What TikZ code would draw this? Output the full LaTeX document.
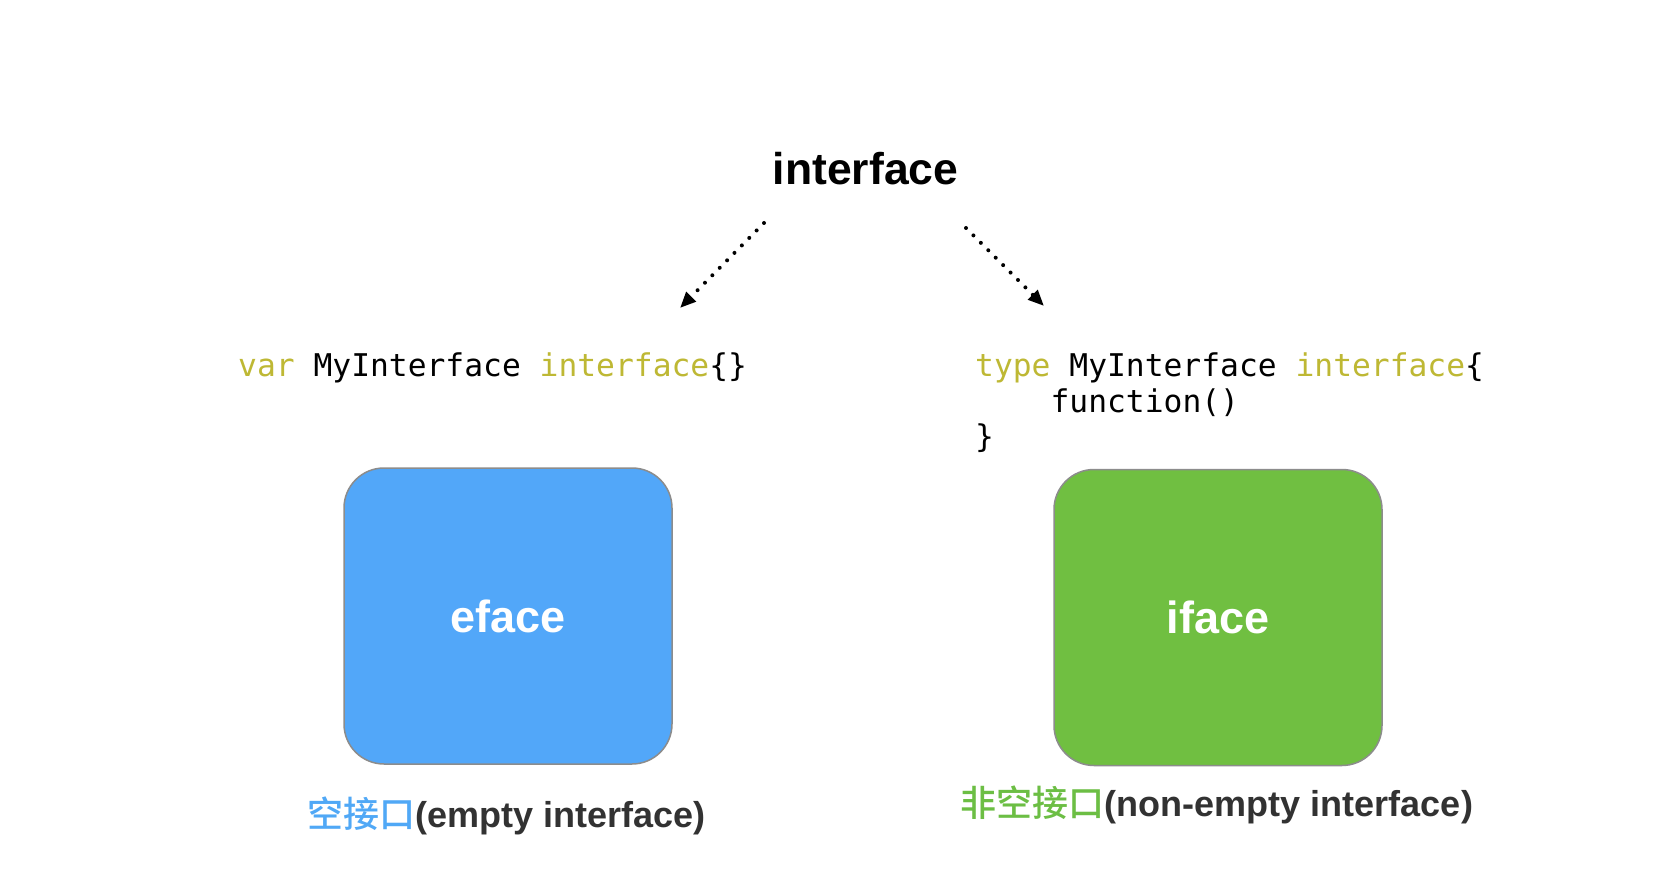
\documentclass[tikz,border=0pt]{standalone}
\usepackage{fontspec}
\setmainfont{Liberation Sans}
\newfontfamily\cjkfont{Noto Sans CJK SC}[UprightFont=* Medium]
\newfontfamily\codefont{DejaVu Sans Mono}
\usetikzlibrary{arrows.meta}
\definecolor{kw}{RGB}{190,184,52}
\definecolor{bluefill}{RGB}{82,167,249}
\definecolor{greenfill}{RGB}{112,191,65}
\definecolor{boxborder}{RGB}{140,140,140}
\definecolor{bluetxt}{RGB}{80,168,246}
\definecolor{greentxt}{RGB}{108,190,68}
\definecolor{darktxt}{RGB}{50,50,50}
\tikzset{
  title/.style={inner sep=0pt, anchor=base, font=\bfseries\fontsize{44.5}{53}\selectfont},
  codeline/.style={inner sep=0pt, anchor=base west, font=\codefont\fontsize{31.3}{37.5}\selectfont},
  typebox/.style={draw=boxborder, line width=1.5pt, rounded corners=40pt,
    minimum width=328pt, minimum height=296pt, inner sep=0pt,
    text=white, font=\bfseries\fontsize{45}{54}\selectfont},
  caption/.style={inner sep=0pt, anchor=base, font=\bfseries\fontsize{36}{43}\selectfont, text=darktxt},
  dotarrow/.style={line width=4pt, line cap=round, dash pattern=on 0pt off 10.5pt,
    -{Triangle[length=16pt,width=13pt]}}
}
\begin{document}
\begin{tikzpicture}[x=1pt,y=-1pt]
\useasboundingbox (0,0) rectangle (1669,874);
\fill[white] (0,0) rectangle (1669,874);

\node[title] (top) at (865.5,185) {interface};

\node[codeline] (leftcode) at (238,376.7) {\textcolor{kw}{var} MyInterface \textcolor{kw}{interface}\{\}};

\node[codeline] (rightcode1) at (975,376.7) {\textcolor{kw}{type} MyInterface \textcolor{kw}{interface}\{};
\node[codeline] (rightcode2) at (1050.4,412.7) {function()};
\node[codeline] (rightcode3) at (975,447) {\}};

\node[typebox, fill=bluefill] (eface) at (508,616) {eface};
\node[typebox, fill=greenfill] (iface) at (1218,617.5) {iface};

\node[caption] (leftcap) at (507,827) {{\mdseries\cjkfont\textcolor{bluetxt}{空接口}}(empty interface)};
\node[caption] (rightcap) at (1217,816) {{\mdseries\cjkfont\textcolor{greentxt}{非空接口}}(non-empty interface)};

\coordinate (la) at (764,223);
\coordinate (lb) at (680,308);
\coordinate (ra) at (966,228);
\coordinate (rb) at (1044,306);
\draw[dotarrow] (la) -- (lb);
\draw[dotarrow] (ra) -- (rb);
\end{tikzpicture}
\end{document}
